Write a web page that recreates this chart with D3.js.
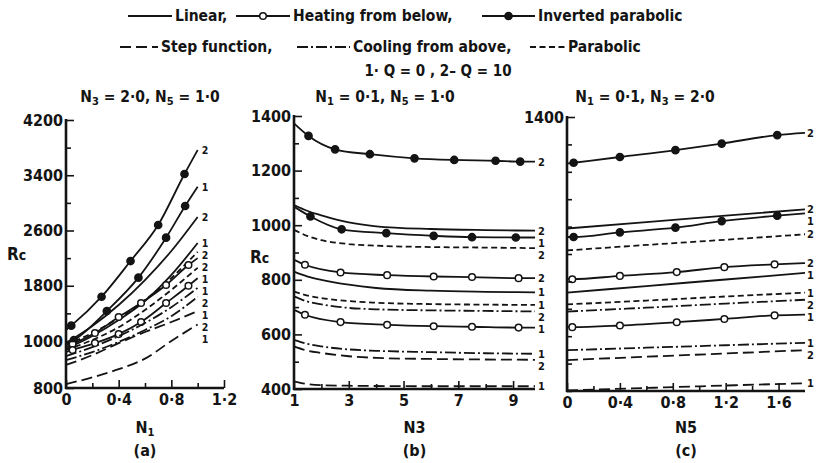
<!DOCTYPE html>
<html><head><meta charset="utf-8">
<script src="https://cdn.jsdelivr.net/npm/d3@7"></script>
<style>
body{margin:0;background:#fff;}
svg text{font-family:"DejaVu Sans Condensed","DejaVu Sans",sans-serif;font-weight:bold;fill:#141414;}
</style></head><body>
<svg id="c" width="818" height="463"></svg>
<script>
// ---------------- data ----------------
const qNames = ["1", "2"];            // 1: Q = 0, 2: Q = 10
const typeNames = ["Linear", "Heating from below", "Inverted parabolic", "Step function", "Cooling from above", "Parabolic"];

// panel (a): Rc vs N1  (N3 = 2.0, N5 = 1.0)
const aN1 = [0, 0.2, 0.4, 0.6, 0.8, 1.0];
const aLinear1 = [966, 1072, 1304, 1579, 1956, 2419];
const aLinear2 = [991, 1217, 1521, 1883, 2303, 2796];
const aParabolic1 = [962, 1014, 1200, 1450, 1740, 2060];
const aParabolic2 = [983, 1116, 1333, 1594, 1912, 2290];
const aCooling1 = [919, 953, 996, 1160, 1360, 1640];
const aCooling2 = [936, 974, 1070, 1260, 1490, 1770];
const aStep1 = [817, 845, 880, 925, 1000, 1240];
const aStep2 = [898, 940, 991, 1130, 1275, 1434];
const aHeatN1 = [0, 0.05, 0.22, 0.4, 0.57, 0.76, 0.93, 1.0];
const aHeating1 = [953, 962, 991, 1100, 1275, 1550, 1800, 1910];
const aHeating2 = [974, 987, 1116, 1348, 1550, 1811, 2100, 2200];
const aInvN1a = [0, 0.06, 0.31, 0.55, 0.76, 0.905, 1.0];
const aInverted1 = [987, 1014, 1434, 1917, 2496, 2955, 3234];
const aInvN1b = [0, 0.04, 0.27, 0.49, 0.70, 0.90, 1.0];
const aInverted2 = [1160, 1222, 1641, 2158, 2680, 3418, 3766];

// panel (b): Rc vs N3  (N1 = 0.1, N5 = 1.0)
const bN3 = [1, 1.5, 2, 3, 4, 6, 8, 9.8];
const bLinear1 = [830, 812, 800, 782, 770, 760, 756, 754];
const bLinear2 = [1074, 1052, 1036, 1010, 996, 986, 982, 980];
const bParabolic1 = [757, 742, 733, 722, 716, 711, 709, 708];
const bParabolic2 = [983, 960, 945, 931, 925, 920, 918, 916];
const bCooling1 = [580, 565, 556, 545, 540, 535, 531, 529];
const bCooling2 = [739, 720, 710, 697, 692, 688, 686, 684];
const bStep1 = [428, 418, 414, 412, 411, 410, 410, 410];
const bStep2 = [556, 540, 532, 520, 514, 510, 508, 507];
const bHeatN3 = [1, 1.4, 2.7, 4.4, 6.1, 7.5, 9.2, 9.8];
const bHeating1 = [690, 672, 645, 635, 630, 628, 625, 625];
const bHeating2 = [873, 855, 827, 817, 812, 810, 806, 806];
const bInvN3a = [1, 1.6, 2.74, 4.37, 6.1, 7.5, 9.1, 9.8];
const bInverted1 = [1068, 1032, 985, 971, 961, 956, 955, 955];
const bInvN3b = [1, 1.53, 2.5, 3.77, 5.4, 6.85, 8.36, 9.26, 9.8];
const bInverted2 = [1373, 1327, 1278, 1260, 1245, 1239, 1236, 1233, 1233];

// panel (c): Rc vs N5  (N1 = 0.1, N3 = 2.0)
const cN5 = [0, 0.6, 1.2, 1.8];
const cLinear1 = [759, 783, 807, 831];
const cLinear2 = [993, 1016, 1040, 1063];
const cParabolic1 = [716, 730, 745, 759];
const cParabolic2 = [913, 933, 952, 972];
const cCooling1 = [549, 558, 567, 576];
const cCooling2 = [690, 704, 719, 733];
const cStep1 = [402, 411, 420, 428];
const cStep2 = [513, 525, 537, 549];
const cHeatN5 = [0, 0.04, 0.4, 0.83, 1.19, 1.57, 1.8];
const cHeating1 = [635, 633, 639, 651, 663, 676, 679];
const cHeating2 = [810, 808, 820, 834, 852, 862, 867];
const cInvN5 = [0, 0.05, 0.4, 0.82, 1.17, 1.59, 1.8];
const cInverted1 = [962, 962, 979, 996, 1020, 1040, 1048];
const cInverted2 = [1230, 1233, 1254, 1279, 1303, 1334, 1342];

// ticks
const aYTicks = [800, 1000, 1800, 2600, 3400, 4200];
const aYMinor = [1400, 2200, 3000, 3800];
const aXTicks = [0, 0.4, 0.8, 1.2];
const aXMinor = [0.2, 0.6, 1.0];
const bYTicks = [400, 600, 800, 1000, 1200, 1400];
const bYMinor = [500, 700, 900, 1100, 1300];
const bXTicks = [1, 3, 5, 7, 9];
const bXMinor = [2, 4, 6, 8];
const cYTicks = [1400];
const cYMinor = [400, 500, 600, 700, 800, 900, 1000, 1100, 1200, 1300];
const cXTicks = [0, 0.4, 0.8, 1.2, 1.6];
const cXMinor = [0.2, 0.6, 1.0, 1.4];

// ---------------- styles ----------------
const styleOf = {
  "Linear": {dash: null, marker: null},
  "Heating from below": {dash: null, marker: "open"},
  "Inverted parabolic": {dash: null, marker: "filled"},
  "Step function": {dash: "11,5", marker: null},
  "Cooling from above": {dash: "11,3,2,3", marker: null},
  "Parabolic": {dash: "6,3.5", marker: null}
};
const INK = "#141414";
const svg = d3.select("#c");
const fmt = v => String(v).replace(".", "·");

function mk(t, q, xs, ys) { return {type: typeNames[t], q: qNames[q], pts: xs.map((x, i) => [x, ys[i]])}; }

const panels = [
  {
    x: d3.scaleLinear().domain([0, 1.2]).range([66, 224]),
    y: d3.scaleLinear().domain([800, 1000, 4200]).range([388, 341, 120]),
    yTop: 4200, xEnd: 1.2, yTicks: aYTicks, yMinor: aYMinor, xTicks: aXTicks, xMinor: aXMinor,
    xLabel: ["N", "1"], tag: "(a)", rc: [7, 260], labelDx: 4, labelGap: 12, labelSize: 10.5,
    series: [
      mk(2, 1, aInvN1b, aInverted2), mk(2, 0, aInvN1a, aInverted1),
      mk(0, 1, aN1, aLinear2), mk(0, 0, aN1, aLinear1),
      mk(5, 1, aN1, aParabolic2), mk(1, 1, aHeatN1, aHeating2),
      mk(5, 0, aN1, aParabolic1), mk(1, 0, aHeatN1, aHeating1),
      mk(4, 1, aN1, aCooling2), mk(4, 0, aN1, aCooling1),
      mk(3, 1, aN1, aStep2), mk(3, 0, aN1, aStep1)
    ]
  },
  {
    x: d3.scaleLinear().domain([1, 9.8]).range([294, 535]),
    y: d3.scaleLinear().domain([400, 1400]).range([389, 116]),
    yTop: 1400, xEnd: 9.8, yTicks: bYTicks, yMinor: bYMinor, xTicks: bXTicks, xMinor: bXMinor,
    xLabel: ["N3", ""], tag: "(b)", rc: [250, 263], labelDx: 3, labelGap: 12, labelSize: 11,
    series: [
      mk(2, 1, bInvN3b, bInverted2), mk(0, 1, bN3, bLinear2), mk(2, 0, bInvN3a, bInverted1),
      mk(5, 1, bN3, bParabolic2), mk(1, 1, bHeatN3, bHeating2), mk(0, 0, bN3, bLinear1),
      mk(5, 0, bN3, bParabolic1), mk(4, 1, bN3, bCooling2), mk(1, 0, bHeatN3, bHeating1),
      mk(4, 0, bN3, bCooling1), mk(3, 1, bN3, bStep2), mk(3, 0, bN3, bStep1)
    ]
  },
  {
    x: d3.scaleLinear().domain([0, 1.8]).range([567, 805]),
    y: d3.scaleLinear().domain([400, 1400]).range([391, 117]),
    yTop: 1400, xEnd: 1.8, yTicks: cYTicks, yMinor: cYMinor, xTicks: cXTicks, xMinor: cXMinor,
    xLabel: ["N5", ""], tag: "(c)", rc: null, labelDx: 2, labelGap: 12, labelSize: 11,
    series: [
      mk(2, 1, cInvN5, cInverted2), mk(0, 1, cN5, cLinear2), mk(2, 0, cInvN5, cInverted1),
      mk(5, 1, cN5, cParabolic2), mk(1, 1, cHeatN5, cHeating2), mk(0, 0, cN5, cLinear1),
      mk(5, 0, cN5, cParabolic1), mk(4, 1, cN5, cCooling2), mk(1, 0, cHeatN5, cHeating1),
      mk(4, 0, cN5, cCooling1), mk(3, 1, cN5, cStep2), mk(3, 0, cN5, cStep1)
    ]
  }
];

function drawPanel(p) {
  const g = svg.append("g");
  const x = p.x, y = p.y;
  const x0 = x.range()[0], yb = y(y.domain()[0]);
  // series
  const line = d3.line().x(d => x(d[0])).y(d => y(d[1])).curve(d3.curveMonotoneX);
  p.series.forEach(s => {
    const st = styleOf[s.type];
    g.append("path").attr("d", line(s.pts)).attr("fill", "none")
      .attr("stroke", INK).attr("stroke-width", 1.8)
      .attr("stroke-dasharray", st.dash);
    if (st.marker) {
      g.selectAll(null).data(s.pts.slice(1, -1)).enter().append("circle")
        .attr("cx", d => x(d[0])).attr("cy", d => y(d[1]))
        .attr("r", st.marker === "open" ? 3.3 : 3.6)
        .attr("fill", st.marker === "open" ? "#fff" : INK)
        .attr("stroke", INK).attr("stroke-width", 1.5);
    }
  });
  // end labels with simple collision avoidance
  const labs = p.series.map(s => {
    const last = s.pts[s.pts.length - 1];
    return {q: s.q, x: x(last[0]) + p.labelDx, y: y(last[1])};
  }).sort((a, b) => a.y - b.y);
  for (let i = 1; i < labs.length; i++) if (labs[i].y - labs[i - 1].y < p.labelGap) labs[i].y = labs[i - 1].y + p.labelGap;
  g.selectAll(null).data(labs).enter().append("text")
    .attr("x", d => d.x).attr("y", d => d.y + 4).attr("font-size", p.labelSize).text(d => d.q);

  // axes
  g.append("g").attr("transform", `translate(${x0},0)`)
    .call(d3.axisLeft(y).tickValues(p.yTicks).tickFormat(fmt).tickSizeInner(-8).tickSizeOuter(0).tickPadding(3));
  g.append("g").attr("transform", `translate(${x0},0)`)
    .call(d3.axisLeft(y).tickValues(p.yMinor).tickFormat("").tickSizeInner(-5).tickSizeOuter(0));
  g.append("g").attr("transform", `translate(0,${yb})`)
    .call(d3.axisBottom(x).tickValues(p.xTicks).tickFormat(fmt).tickSizeInner(-8).tickSizeOuter(0).tickPadding(6));
  g.append("g").attr("transform", `translate(0,${yb})`)
    .call(d3.axisBottom(x).tickValues(p.xMinor).tickFormat("").tickSizeInner(-5).tickSizeOuter(0));
  g.selectAll(".domain").remove();
  g.selectAll(".tick line").attr("stroke", INK).attr("stroke-width", 1.6);
  g.selectAll(".tick text").attr("font-size", 16).attr("fill", INK)
    .style("font-family", '"DejaVu Sans Condensed","DejaVu Sans",sans-serif').style("font-weight", "bold");
  // axis lines
  g.append("line").attr("x1", x0).attr("x2", x0).attr("y1", yb + 1).attr("y2", y(p.yTop) - 1)
    .attr("stroke", INK).attr("stroke-width", 2.6);
  g.append("line").attr("x1", x0 - 1).attr("x2", x(p.xEnd)).attr("y1", yb).attr("y2", yb)
    .attr("stroke", INK).attr("stroke-width", 2.6);

  // axis titles
  const cx = (x.range()[0] + x.range()[1]) / 2;
  const t = g.append("text").attr("x", cx).attr("y", 433).attr("text-anchor", "middle").attr("font-size", 16);
  t.append("tspan").text(p.xLabel[0]);
  if (p.xLabel[1]) t.append("tspan").attr("font-size", 11).attr("dy", 3).text(p.xLabel[1]);
  g.append("text").attr("x", cx).attr("y", 456).attr("text-anchor", "middle").attr("font-size", 16).text(p.tag);
  if (p.rc) {
    const r = g.append("text").attr("x", p.rc[0]).attr("y", p.rc[1]).attr("font-size", 17);
    r.append("tspan").text("R");
    r.append("tspan").attr("font-size", 14).text("c");
  }
}
panels.forEach(drawPanel);

// ---------------- legend ----------------
function sample(x1, x2, yy, type) {
  const st = styleOf[type];
  svg.append("line").attr("x1", x1).attr("x2", x2).attr("y1", yy).attr("y2", yy)
    .attr("stroke", INK).attr("stroke-width", 1.8).attr("stroke-dasharray", st.dash);
  if (st.marker) svg.append("circle").attr("cx", (x1 + x2) / 2).attr("cy", yy)
    .attr("r", st.marker === "open" ? 3.3 : 3.6)
    .attr("fill", st.marker === "open" ? "#fff" : INK).attr("stroke", INK).attr("stroke-width", 1.5);
}
const legendRows = [
  [[128, 172, 0, "Linear,"], [236, 290, 1, "Heating from below,"], [482, 535, 2, "Inverted parabolic"]],
  [[120, 158, 3, "Step function,"], [297, 350, 4, "Cooling from above,"], [530, 565, 5, "Parabolic"]]
];
const rowY = [16, 47];
legendRows.forEach((row, ri) => row.forEach(it => {
  sample(it[0], it[1], rowY[ri], typeNames[it[2]]);
  svg.append("text").attr("x", it[1] + 3).attr("y", rowY[ri] + 5).attr("font-size", 15.5).text(it[3]);
}));
svg.append("text").attr("x", 438).attr("y", 76).attr("text-anchor", "middle").attr("font-size", 15)
  .text("1· Q = 0 , 2– Q = 10");

function title(cx, parts) {
  const t = svg.append("text").attr("x", cx).attr("y", 102).attr("text-anchor", "middle").attr("font-size", 15.5);
  parts.forEach(p => {
    t.append("tspan").text(p[0]);
    t.append("tspan").attr("font-size", 11).attr("dy", 3).text(p[1]);
    t.append("tspan").attr("dy", -3).text(p[2]);
  });
}
title(150, [["N", "3", " = 2·0, "], ["N", "5", " = 1·0"]]);
title(385, [["N", "1", " = 0·1, "], ["N", "5", " = 1·0"]]);
title(645, [["N", "1", " = 0·1, "], ["N", "3", " = 2·0"]]);
</script>
</body></html>
